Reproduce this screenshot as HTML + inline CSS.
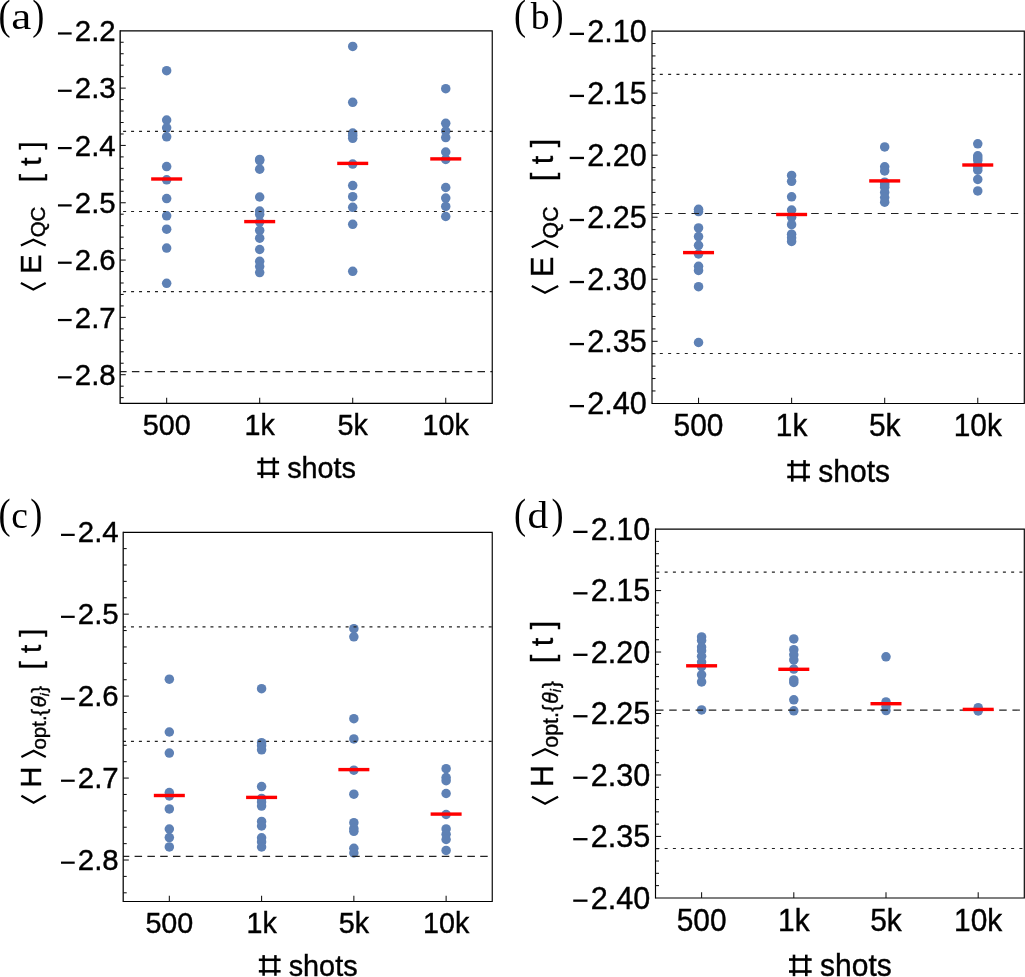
<!DOCTYPE html>
<html><head><meta charset="utf-8"><style>
html,body{margin:0;padding:0;background:#fff;overflow:hidden;}
svg{display:block;will-change:transform;}
text{fill:#000;stroke:#000;stroke-width:0.4px;}
g.nos text{stroke:none;}
</style></head><body>
<svg width="1025" height="977" viewBox="0 0 1025 977">
<rect width="1025" height="977" fill="#fff"/>
<circle cx="166.66" cy="70.70" r="4.75" fill="#5e81b5"/>
<circle cx="166.66" cy="120.00" r="4.75" fill="#5e81b5"/>
<circle cx="166.66" cy="127.80" r="4.75" fill="#5e81b5"/>
<circle cx="166.66" cy="136.80" r="4.75" fill="#5e81b5"/>
<circle cx="166.66" cy="166.60" r="4.75" fill="#5e81b5"/>
<circle cx="166.66" cy="179.80" r="4.75" fill="#5e81b5"/>
<circle cx="166.66" cy="198.60" r="4.75" fill="#5e81b5"/>
<circle cx="166.66" cy="215.80" r="4.75" fill="#5e81b5"/>
<circle cx="166.66" cy="229.20" r="4.75" fill="#5e81b5"/>
<circle cx="166.66" cy="248.10" r="4.75" fill="#5e81b5"/>
<circle cx="166.66" cy="283.30" r="4.75" fill="#5e81b5"/>
<circle cx="259.69" cy="159.40" r="4.75" fill="#5e81b5"/>
<circle cx="259.69" cy="160.60" r="4.75" fill="#5e81b5"/>
<circle cx="259.69" cy="169.20" r="4.75" fill="#5e81b5"/>
<circle cx="259.69" cy="197.00" r="4.75" fill="#5e81b5"/>
<circle cx="259.69" cy="211.10" r="4.75" fill="#5e81b5"/>
<circle cx="259.69" cy="214.40" r="4.75" fill="#5e81b5"/>
<circle cx="259.69" cy="221.80" r="4.75" fill="#5e81b5"/>
<circle cx="259.69" cy="230.40" r="4.75" fill="#5e81b5"/>
<circle cx="259.69" cy="238.20" r="4.75" fill="#5e81b5"/>
<circle cx="259.69" cy="249.50" r="4.75" fill="#5e81b5"/>
<circle cx="259.69" cy="261.30" r="4.75" fill="#5e81b5"/>
<circle cx="259.69" cy="266.50" r="4.75" fill="#5e81b5"/>
<circle cx="259.69" cy="272.60" r="4.75" fill="#5e81b5"/>
<circle cx="352.71" cy="46.40" r="4.75" fill="#5e81b5"/>
<circle cx="352.71" cy="102.30" r="4.75" fill="#5e81b5"/>
<circle cx="352.71" cy="133.00" r="4.75" fill="#5e81b5"/>
<circle cx="352.71" cy="135.60" r="4.75" fill="#5e81b5"/>
<circle cx="352.71" cy="138.30" r="4.75" fill="#5e81b5"/>
<circle cx="352.71" cy="164.10" r="4.75" fill="#5e81b5"/>
<circle cx="352.71" cy="185.60" r="4.75" fill="#5e81b5"/>
<circle cx="352.71" cy="196.70" r="4.75" fill="#5e81b5"/>
<circle cx="352.71" cy="207.30" r="4.75" fill="#5e81b5"/>
<circle cx="352.71" cy="224.30" r="4.75" fill="#5e81b5"/>
<circle cx="352.71" cy="271.30" r="4.75" fill="#5e81b5"/>
<circle cx="445.74" cy="88.70" r="4.75" fill="#5e81b5"/>
<circle cx="445.74" cy="123.30" r="4.75" fill="#5e81b5"/>
<circle cx="445.74" cy="131.10" r="4.75" fill="#5e81b5"/>
<circle cx="445.74" cy="137.60" r="4.75" fill="#5e81b5"/>
<circle cx="445.74" cy="152.00" r="4.75" fill="#5e81b5"/>
<circle cx="445.74" cy="159.40" r="4.75" fill="#5e81b5"/>
<circle cx="445.74" cy="187.50" r="4.75" fill="#5e81b5"/>
<circle cx="445.74" cy="198.10" r="4.75" fill="#5e81b5"/>
<circle cx="445.74" cy="206.40" r="4.75" fill="#5e81b5"/>
<circle cx="445.74" cy="216.50" r="4.75" fill="#5e81b5"/>
<line x1="120.15" y1="131.40" x2="492.25" y2="131.40" stroke="#222" stroke-width="1.15" stroke-dasharray="3.0 4.97" stroke-dashoffset="5.02"/>
<line x1="120.15" y1="211.50" x2="492.25" y2="211.50" stroke="#222" stroke-width="1.15" stroke-dasharray="3.0 4.97" stroke-dashoffset="5.02"/>
<line x1="120.15" y1="291.60" x2="492.25" y2="291.60" stroke="#222" stroke-width="1.15" stroke-dasharray="3.0 4.97" stroke-dashoffset="5.02"/>
<line x1="120.15" y1="371.60" x2="492.25" y2="371.60" stroke="#222" stroke-width="1.15" stroke-dasharray="7.5 5.30" stroke-dashoffset="1.05"/>
<line x1="151.16" y1="179.00" x2="182.16" y2="179.00" stroke="#ff0000" stroke-width="3.4"/>
<line x1="244.19" y1="221.60" x2="275.19" y2="221.60" stroke="#ff0000" stroke-width="3.4"/>
<line x1="337.21" y1="163.40" x2="368.21" y2="163.40" stroke="#ff0000" stroke-width="3.4"/>
<line x1="430.24" y1="158.90" x2="461.24" y2="158.90" stroke="#ff0000" stroke-width="3.4"/>
<path d="M120.15,30.80H492.25V403.35H120.15" fill="none" stroke="#000000" stroke-width="1.15"/>
<line x1="120.15" y1="30.23" x2="120.15" y2="403.93" stroke="#000000" stroke-width="1.35"/>
<line x1="120.15" y1="397.62" x2="123.65" y2="397.62" stroke="#111111" stroke-width="1.05"/>
<line x1="120.15" y1="386.16" x2="123.65" y2="386.16" stroke="#111111" stroke-width="1.05"/>
<line x1="120.15" y1="374.69" x2="125.75" y2="374.69" stroke="#111111" stroke-width="1.05"/>
<text x="115.65" y="384.95" font-family="Liberation Sans" font-size="29.4" text-anchor="end">2.8</text>
<rect x="57.96" y="376.25" width="13.70" height="2.20" fill="#000"/>
<line x1="120.15" y1="363.23" x2="123.65" y2="363.23" stroke="#111111" stroke-width="1.05"/>
<line x1="120.15" y1="351.77" x2="123.65" y2="351.77" stroke="#111111" stroke-width="1.05"/>
<line x1="120.15" y1="340.30" x2="123.65" y2="340.30" stroke="#111111" stroke-width="1.05"/>
<line x1="120.15" y1="328.84" x2="123.65" y2="328.84" stroke="#111111" stroke-width="1.05"/>
<line x1="120.15" y1="317.38" x2="125.75" y2="317.38" stroke="#111111" stroke-width="1.05"/>
<text x="115.65" y="327.64" font-family="Liberation Sans" font-size="29.4" text-anchor="end">2.7</text>
<rect x="57.96" y="318.94" width="13.70" height="2.20" fill="#000"/>
<line x1="120.15" y1="305.91" x2="123.65" y2="305.91" stroke="#111111" stroke-width="1.05"/>
<line x1="120.15" y1="294.45" x2="123.65" y2="294.45" stroke="#111111" stroke-width="1.05"/>
<line x1="120.15" y1="282.99" x2="123.65" y2="282.99" stroke="#111111" stroke-width="1.05"/>
<line x1="120.15" y1="271.52" x2="123.65" y2="271.52" stroke="#111111" stroke-width="1.05"/>
<line x1="120.15" y1="260.06" x2="125.75" y2="260.06" stroke="#111111" stroke-width="1.05"/>
<text x="115.65" y="270.32" font-family="Liberation Sans" font-size="29.4" text-anchor="end">2.6</text>
<rect x="57.96" y="261.62" width="13.70" height="2.20" fill="#000"/>
<line x1="120.15" y1="248.60" x2="123.65" y2="248.60" stroke="#111111" stroke-width="1.05"/>
<line x1="120.15" y1="237.14" x2="123.65" y2="237.14" stroke="#111111" stroke-width="1.05"/>
<line x1="120.15" y1="225.67" x2="123.65" y2="225.67" stroke="#111111" stroke-width="1.05"/>
<line x1="120.15" y1="214.21" x2="123.65" y2="214.21" stroke="#111111" stroke-width="1.05"/>
<line x1="120.15" y1="202.75" x2="125.75" y2="202.75" stroke="#111111" stroke-width="1.05"/>
<text x="115.65" y="213.01" font-family="Liberation Sans" font-size="29.4" text-anchor="end">2.5</text>
<rect x="57.96" y="204.31" width="13.70" height="2.20" fill="#000"/>
<line x1="120.15" y1="191.28" x2="123.65" y2="191.28" stroke="#111111" stroke-width="1.05"/>
<line x1="120.15" y1="179.82" x2="123.65" y2="179.82" stroke="#111111" stroke-width="1.05"/>
<line x1="120.15" y1="168.36" x2="123.65" y2="168.36" stroke="#111111" stroke-width="1.05"/>
<line x1="120.15" y1="156.89" x2="123.65" y2="156.89" stroke="#111111" stroke-width="1.05"/>
<line x1="120.15" y1="145.43" x2="125.75" y2="145.43" stroke="#111111" stroke-width="1.05"/>
<text x="115.65" y="155.69" font-family="Liberation Sans" font-size="29.4" text-anchor="end">2.4</text>
<rect x="57.96" y="146.99" width="13.70" height="2.20" fill="#000"/>
<line x1="120.15" y1="133.97" x2="123.65" y2="133.97" stroke="#111111" stroke-width="1.05"/>
<line x1="120.15" y1="122.50" x2="123.65" y2="122.50" stroke="#111111" stroke-width="1.05"/>
<line x1="120.15" y1="111.04" x2="123.65" y2="111.04" stroke="#111111" stroke-width="1.05"/>
<line x1="120.15" y1="99.58" x2="123.65" y2="99.58" stroke="#111111" stroke-width="1.05"/>
<line x1="120.15" y1="88.12" x2="125.75" y2="88.12" stroke="#111111" stroke-width="1.05"/>
<text x="115.65" y="98.38" font-family="Liberation Sans" font-size="29.4" text-anchor="end">2.3</text>
<rect x="57.96" y="89.68" width="13.70" height="2.20" fill="#000"/>
<line x1="120.15" y1="76.65" x2="123.65" y2="76.65" stroke="#111111" stroke-width="1.05"/>
<line x1="120.15" y1="65.19" x2="123.65" y2="65.19" stroke="#111111" stroke-width="1.05"/>
<line x1="120.15" y1="53.73" x2="123.65" y2="53.73" stroke="#111111" stroke-width="1.05"/>
<line x1="120.15" y1="42.26" x2="123.65" y2="42.26" stroke="#111111" stroke-width="1.05"/>
<text x="115.65" y="41.06" font-family="Liberation Sans" font-size="29.4" text-anchor="end">2.2</text>
<rect x="57.96" y="32.36" width="13.70" height="2.20" fill="#000"/>
<line x1="166.66" y1="403.35" x2="166.66" y2="397.65" stroke="#111111" stroke-width="1.05"/>
<text transform="translate(166.66,435.25) scale(0.977,1)" text-anchor="middle" font-family="Liberation Sans" font-size="29.4">500</text>
<line x1="259.69" y1="403.35" x2="259.69" y2="397.65" stroke="#111111" stroke-width="1.05"/>
<text transform="translate(259.69,435.25) scale(0.977,1)" text-anchor="middle" font-family="Liberation Sans" font-size="29.4">1k</text>
<line x1="352.71" y1="403.35" x2="352.71" y2="397.65" stroke="#111111" stroke-width="1.05"/>
<text transform="translate(352.71,435.25) scale(0.977,1)" text-anchor="middle" font-family="Liberation Sans" font-size="29.4">5k</text>
<line x1="445.74" y1="403.35" x2="445.74" y2="397.65" stroke="#111111" stroke-width="1.05"/>
<text transform="translate(445.74,435.25) scale(0.977,1)" text-anchor="middle" font-family="Liberation Sans" font-size="29.4">10k</text>
<g stroke="#000" stroke-width="2.50" fill="none"><line x1="262.10" y1="457.45" x2="262.10" y2="478.15"/><line x1="273.90" y1="457.45" x2="273.90" y2="478.15"/><line x1="257.30" y1="462.15" x2="279.10" y2="462.15"/><line x1="257.30" y1="473.65" x2="279.10" y2="473.65"/></g>
<text transform="translate(287.18,478.25) scale(0.98,1)" font-family="Liberation Sans" font-size="29.4">shots</text>
<circle cx="698.54" cy="209.30" r="4.75" fill="#5e81b5"/>
<circle cx="698.54" cy="211.60" r="4.75" fill="#5e81b5"/>
<circle cx="698.54" cy="227.90" r="4.75" fill="#5e81b5"/>
<circle cx="698.54" cy="236.60" r="4.75" fill="#5e81b5"/>
<circle cx="698.54" cy="245.30" r="4.75" fill="#5e81b5"/>
<circle cx="698.54" cy="254.00" r="4.75" fill="#5e81b5"/>
<circle cx="698.54" cy="266.30" r="4.75" fill="#5e81b5"/>
<circle cx="698.54" cy="270.50" r="4.75" fill="#5e81b5"/>
<circle cx="698.54" cy="286.70" r="4.75" fill="#5e81b5"/>
<circle cx="698.54" cy="342.50" r="4.75" fill="#5e81b5"/>
<circle cx="791.61" cy="175.40" r="4.75" fill="#5e81b5"/>
<circle cx="791.61" cy="181.30" r="4.75" fill="#5e81b5"/>
<circle cx="791.61" cy="196.80" r="4.75" fill="#5e81b5"/>
<circle cx="791.61" cy="210.00" r="4.75" fill="#5e81b5"/>
<circle cx="791.61" cy="217.30" r="4.75" fill="#5e81b5"/>
<circle cx="791.61" cy="224.70" r="4.75" fill="#5e81b5"/>
<circle cx="791.61" cy="234.20" r="4.75" fill="#5e81b5"/>
<circle cx="791.61" cy="237.80" r="4.75" fill="#5e81b5"/>
<circle cx="791.61" cy="241.40" r="4.75" fill="#5e81b5"/>
<circle cx="884.69" cy="146.90" r="4.75" fill="#5e81b5"/>
<circle cx="884.69" cy="166.80" r="4.75" fill="#5e81b5"/>
<circle cx="884.69" cy="170.90" r="4.75" fill="#5e81b5"/>
<circle cx="884.69" cy="182.20" r="4.75" fill="#5e81b5"/>
<circle cx="884.69" cy="184.70" r="4.75" fill="#5e81b5"/>
<circle cx="884.69" cy="187.30" r="4.75" fill="#5e81b5"/>
<circle cx="884.69" cy="192.40" r="4.75" fill="#5e81b5"/>
<circle cx="884.69" cy="197.60" r="4.75" fill="#5e81b5"/>
<circle cx="884.69" cy="202.20" r="4.75" fill="#5e81b5"/>
<circle cx="977.76" cy="143.80" r="4.75" fill="#5e81b5"/>
<circle cx="977.76" cy="155.80" r="4.75" fill="#5e81b5"/>
<circle cx="977.76" cy="158.00" r="4.75" fill="#5e81b5"/>
<circle cx="977.76" cy="160.40" r="4.75" fill="#5e81b5"/>
<circle cx="977.76" cy="165.00" r="4.75" fill="#5e81b5"/>
<circle cx="977.76" cy="167.50" r="4.75" fill="#5e81b5"/>
<circle cx="977.76" cy="170.20" r="4.75" fill="#5e81b5"/>
<circle cx="977.76" cy="179.40" r="4.75" fill="#5e81b5"/>
<circle cx="977.76" cy="190.90" r="4.75" fill="#5e81b5"/>
<line x1="652.00" y1="74.40" x2="1024.30" y2="74.40" stroke="#222" stroke-width="1.15" stroke-dasharray="3.0 5.33" stroke-dashoffset="0.53"/>
<line x1="652.00" y1="213.50" x2="1024.30" y2="213.50" stroke="#222" stroke-width="1.15" stroke-dasharray="7.5 5.80" stroke-dashoffset="0.40"/>
<line x1="652.00" y1="353.50" x2="1024.30" y2="353.50" stroke="#222" stroke-width="1.15" stroke-dasharray="3.0 5.33" stroke-dashoffset="0.53"/>
<line x1="683.04" y1="252.60" x2="714.04" y2="252.60" stroke="#ff0000" stroke-width="3.4"/>
<line x1="776.11" y1="214.50" x2="807.11" y2="214.50" stroke="#ff0000" stroke-width="3.4"/>
<line x1="869.19" y1="180.90" x2="900.19" y2="180.90" stroke="#ff0000" stroke-width="3.4"/>
<line x1="962.26" y1="165.00" x2="993.26" y2="165.00" stroke="#ff0000" stroke-width="3.4"/>
<path d="M652.00,31.10H1024.30V403.50H652.00" fill="none" stroke="#000000" stroke-width="1.15"/>
<line x1="652.00" y1="30.53" x2="652.00" y2="404.07" stroke="#000000" stroke-width="1.15"/>
<text x="646.80" y="414.03" font-family="Liberation Sans" font-size="30.6" text-anchor="end">2.40</text>
<rect x="569.74" y="404.97" width="14.26" height="2.29" fill="#000"/>
<line x1="652.00" y1="390.94" x2="655.50" y2="390.94" stroke="#111111" stroke-width="1.05"/>
<line x1="652.00" y1="378.53" x2="655.50" y2="378.53" stroke="#111111" stroke-width="1.05"/>
<line x1="652.00" y1="366.13" x2="655.50" y2="366.13" stroke="#111111" stroke-width="1.05"/>
<line x1="652.00" y1="353.72" x2="655.50" y2="353.72" stroke="#111111" stroke-width="1.05"/>
<line x1="652.00" y1="341.31" x2="657.60" y2="341.31" stroke="#111111" stroke-width="1.05"/>
<text x="646.80" y="351.99" font-family="Liberation Sans" font-size="30.6" text-anchor="end">2.35</text>
<rect x="569.74" y="342.93" width="14.26" height="2.29" fill="#000"/>
<line x1="652.00" y1="328.90" x2="655.50" y2="328.90" stroke="#111111" stroke-width="1.05"/>
<line x1="652.00" y1="316.49" x2="655.50" y2="316.49" stroke="#111111" stroke-width="1.05"/>
<line x1="652.00" y1="304.08" x2="655.50" y2="304.08" stroke="#111111" stroke-width="1.05"/>
<line x1="652.00" y1="291.68" x2="655.50" y2="291.68" stroke="#111111" stroke-width="1.05"/>
<line x1="652.00" y1="279.27" x2="657.60" y2="279.27" stroke="#111111" stroke-width="1.05"/>
<text x="646.80" y="289.95" font-family="Liberation Sans" font-size="30.6" text-anchor="end">2.30</text>
<rect x="569.74" y="280.89" width="14.26" height="2.29" fill="#000"/>
<line x1="652.00" y1="266.86" x2="655.50" y2="266.86" stroke="#111111" stroke-width="1.05"/>
<line x1="652.00" y1="254.45" x2="655.50" y2="254.45" stroke="#111111" stroke-width="1.05"/>
<line x1="652.00" y1="242.04" x2="655.50" y2="242.04" stroke="#111111" stroke-width="1.05"/>
<line x1="652.00" y1="229.63" x2="655.50" y2="229.63" stroke="#111111" stroke-width="1.05"/>
<line x1="652.00" y1="217.22" x2="657.60" y2="217.22" stroke="#111111" stroke-width="1.05"/>
<text x="646.80" y="227.90" font-family="Liberation Sans" font-size="30.6" text-anchor="end">2.25</text>
<rect x="569.74" y="218.85" width="14.26" height="2.29" fill="#000"/>
<line x1="652.00" y1="204.82" x2="655.50" y2="204.82" stroke="#111111" stroke-width="1.05"/>
<line x1="652.00" y1="192.41" x2="655.50" y2="192.41" stroke="#111111" stroke-width="1.05"/>
<line x1="652.00" y1="180.00" x2="655.50" y2="180.00" stroke="#111111" stroke-width="1.05"/>
<line x1="652.00" y1="167.59" x2="655.50" y2="167.59" stroke="#111111" stroke-width="1.05"/>
<line x1="652.00" y1="155.18" x2="657.60" y2="155.18" stroke="#111111" stroke-width="1.05"/>
<text x="646.80" y="165.86" font-family="Liberation Sans" font-size="30.6" text-anchor="end">2.20</text>
<rect x="569.74" y="156.81" width="14.26" height="2.29" fill="#000"/>
<line x1="652.00" y1="142.77" x2="655.50" y2="142.77" stroke="#111111" stroke-width="1.05"/>
<line x1="652.00" y1="130.37" x2="655.50" y2="130.37" stroke="#111111" stroke-width="1.05"/>
<line x1="652.00" y1="117.96" x2="655.50" y2="117.96" stroke="#111111" stroke-width="1.05"/>
<line x1="652.00" y1="105.55" x2="655.50" y2="105.55" stroke="#111111" stroke-width="1.05"/>
<line x1="652.00" y1="93.14" x2="657.60" y2="93.14" stroke="#111111" stroke-width="1.05"/>
<text x="646.80" y="103.82" font-family="Liberation Sans" font-size="30.6" text-anchor="end">2.15</text>
<rect x="569.74" y="94.77" width="14.26" height="2.29" fill="#000"/>
<line x1="652.00" y1="80.73" x2="655.50" y2="80.73" stroke="#111111" stroke-width="1.05"/>
<line x1="652.00" y1="68.32" x2="655.50" y2="68.32" stroke="#111111" stroke-width="1.05"/>
<line x1="652.00" y1="55.92" x2="655.50" y2="55.92" stroke="#111111" stroke-width="1.05"/>
<line x1="652.00" y1="43.51" x2="655.50" y2="43.51" stroke="#111111" stroke-width="1.05"/>
<text x="646.80" y="41.78" font-family="Liberation Sans" font-size="30.6" text-anchor="end">2.10</text>
<rect x="569.74" y="32.72" width="14.26" height="2.29" fill="#000"/>
<line x1="698.54" y1="403.50" x2="698.54" y2="397.80" stroke="#111111" stroke-width="1.05"/>
<text transform="translate(698.54,436.25) scale(0.977,1)" text-anchor="middle" font-family="Liberation Sans" font-size="30.6">500</text>
<line x1="791.61" y1="403.50" x2="791.61" y2="397.80" stroke="#111111" stroke-width="1.05"/>
<text transform="translate(791.61,436.25) scale(0.977,1)" text-anchor="middle" font-family="Liberation Sans" font-size="30.6">1k</text>
<line x1="884.69" y1="403.50" x2="884.69" y2="397.80" stroke="#111111" stroke-width="1.05"/>
<text transform="translate(884.69,436.25) scale(0.977,1)" text-anchor="middle" font-family="Liberation Sans" font-size="30.6">5k</text>
<line x1="977.76" y1="403.50" x2="977.76" y2="397.80" stroke="#111111" stroke-width="1.05"/>
<text transform="translate(977.76,436.25) scale(0.977,1)" text-anchor="middle" font-family="Liberation Sans" font-size="30.6">10k</text>
<g stroke="#000" stroke-width="2.60" fill="none"><line x1="792.25" y1="460.10" x2="792.25" y2="481.65"/><line x1="804.53" y1="460.10" x2="804.53" y2="481.65"/><line x1="787.25" y1="464.99" x2="809.94" y2="464.99"/><line x1="787.25" y1="476.96" x2="809.94" y2="476.96"/></g>
<text transform="translate(818.35,481.75) scale(0.98,1)" font-family="Liberation Sans" font-size="30.6">shots</text>
<circle cx="169.33" cy="679.20" r="4.75" fill="#5e81b5"/>
<circle cx="169.33" cy="732.00" r="4.75" fill="#5e81b5"/>
<circle cx="169.33" cy="753.10" r="4.75" fill="#5e81b5"/>
<circle cx="169.33" cy="792.50" r="4.75" fill="#5e81b5"/>
<circle cx="169.33" cy="796.00" r="4.75" fill="#5e81b5"/>
<circle cx="169.33" cy="808.90" r="4.75" fill="#5e81b5"/>
<circle cx="169.33" cy="829.00" r="4.75" fill="#5e81b5"/>
<circle cx="169.33" cy="837.60" r="4.75" fill="#5e81b5"/>
<circle cx="169.33" cy="846.90" r="4.75" fill="#5e81b5"/>
<circle cx="261.59" cy="688.70" r="4.75" fill="#5e81b5"/>
<circle cx="261.59" cy="742.70" r="4.75" fill="#5e81b5"/>
<circle cx="261.59" cy="745.70" r="4.75" fill="#5e81b5"/>
<circle cx="261.59" cy="749.80" r="4.75" fill="#5e81b5"/>
<circle cx="261.59" cy="786.60" r="4.75" fill="#5e81b5"/>
<circle cx="261.59" cy="798.40" r="4.75" fill="#5e81b5"/>
<circle cx="261.59" cy="802.00" r="4.75" fill="#5e81b5"/>
<circle cx="261.59" cy="806.10" r="4.75" fill="#5e81b5"/>
<circle cx="261.59" cy="821.40" r="4.75" fill="#5e81b5"/>
<circle cx="261.59" cy="826.00" r="4.75" fill="#5e81b5"/>
<circle cx="261.59" cy="837.80" r="4.75" fill="#5e81b5"/>
<circle cx="261.59" cy="841.90" r="4.75" fill="#5e81b5"/>
<circle cx="261.59" cy="847.00" r="4.75" fill="#5e81b5"/>
<circle cx="353.86" cy="628.70" r="4.75" fill="#5e81b5"/>
<circle cx="353.86" cy="636.80" r="4.75" fill="#5e81b5"/>
<circle cx="353.86" cy="718.70" r="4.75" fill="#5e81b5"/>
<circle cx="353.86" cy="738.90" r="4.75" fill="#5e81b5"/>
<circle cx="353.86" cy="770.20" r="4.75" fill="#5e81b5"/>
<circle cx="353.86" cy="794.20" r="4.75" fill="#5e81b5"/>
<circle cx="353.86" cy="822.70" r="4.75" fill="#5e81b5"/>
<circle cx="353.86" cy="828.50" r="4.75" fill="#5e81b5"/>
<circle cx="353.86" cy="831.30" r="4.75" fill="#5e81b5"/>
<circle cx="353.86" cy="848.30" r="4.75" fill="#5e81b5"/>
<circle cx="353.86" cy="853.00" r="4.75" fill="#5e81b5"/>
<circle cx="446.12" cy="768.70" r="4.75" fill="#5e81b5"/>
<circle cx="446.12" cy="777.60" r="4.75" fill="#5e81b5"/>
<circle cx="446.12" cy="780.70" r="4.75" fill="#5e81b5"/>
<circle cx="446.12" cy="793.50" r="4.75" fill="#5e81b5"/>
<circle cx="446.12" cy="814.50" r="4.75" fill="#5e81b5"/>
<circle cx="446.12" cy="828.90" r="4.75" fill="#5e81b5"/>
<circle cx="446.12" cy="834.30" r="4.75" fill="#5e81b5"/>
<circle cx="446.12" cy="839.50" r="4.75" fill="#5e81b5"/>
<circle cx="446.12" cy="850.40" r="4.75" fill="#5e81b5"/>
<line x1="123.20" y1="626.90" x2="492.25" y2="626.90" stroke="#222" stroke-width="1.15" stroke-dasharray="3.0 4.95" stroke-dashoffset="0.20"/>
<line x1="123.20" y1="741.40" x2="492.25" y2="741.40" stroke="#222" stroke-width="1.15" stroke-dasharray="3.0 4.95" stroke-dashoffset="0.20"/>
<line x1="123.20" y1="856.40" x2="492.25" y2="856.40" stroke="#222" stroke-width="1.15" stroke-dasharray="7.5 5.30" stroke-dashoffset="1.40"/>
<line x1="153.83" y1="795.50" x2="184.83" y2="795.50" stroke="#ff0000" stroke-width="3.4"/>
<line x1="246.09" y1="797.40" x2="277.09" y2="797.40" stroke="#ff0000" stroke-width="3.4"/>
<line x1="338.36" y1="769.60" x2="369.36" y2="769.60" stroke="#ff0000" stroke-width="3.4"/>
<line x1="430.62" y1="814.10" x2="461.62" y2="814.10" stroke="#ff0000" stroke-width="3.4"/>
<path d="M123.20,532.35H492.25V901.50H123.20" fill="none" stroke="#000000" stroke-width="1.15"/>
<line x1="123.20" y1="531.77" x2="123.20" y2="902.08" stroke="#000000" stroke-width="1.25"/>
<line x1="123.20" y1="892.80" x2="126.70" y2="892.80" stroke="#111111" stroke-width="1.05"/>
<line x1="123.20" y1="876.41" x2="126.70" y2="876.41" stroke="#111111" stroke-width="1.05"/>
<line x1="123.20" y1="860.02" x2="128.80" y2="860.02" stroke="#111111" stroke-width="1.05"/>
<text x="118.70" y="870.28" font-family="Liberation Sans" font-size="29.4" text-anchor="end">2.8</text>
<rect x="61.01" y="861.58" width="13.70" height="2.20" fill="#000"/>
<line x1="123.20" y1="843.63" x2="126.70" y2="843.63" stroke="#111111" stroke-width="1.05"/>
<line x1="123.20" y1="827.24" x2="126.70" y2="827.24" stroke="#111111" stroke-width="1.05"/>
<line x1="123.20" y1="810.85" x2="126.70" y2="810.85" stroke="#111111" stroke-width="1.05"/>
<line x1="123.20" y1="794.46" x2="126.70" y2="794.46" stroke="#111111" stroke-width="1.05"/>
<line x1="123.20" y1="778.07" x2="128.80" y2="778.07" stroke="#111111" stroke-width="1.05"/>
<text x="118.70" y="788.33" font-family="Liberation Sans" font-size="29.4" text-anchor="end">2.7</text>
<rect x="61.01" y="779.63" width="13.70" height="2.20" fill="#000"/>
<line x1="123.20" y1="761.68" x2="126.70" y2="761.68" stroke="#111111" stroke-width="1.05"/>
<line x1="123.20" y1="745.28" x2="126.70" y2="745.28" stroke="#111111" stroke-width="1.05"/>
<line x1="123.20" y1="728.89" x2="126.70" y2="728.89" stroke="#111111" stroke-width="1.05"/>
<line x1="123.20" y1="712.50" x2="126.70" y2="712.50" stroke="#111111" stroke-width="1.05"/>
<line x1="123.20" y1="696.11" x2="128.80" y2="696.11" stroke="#111111" stroke-width="1.05"/>
<text x="118.70" y="706.37" font-family="Liberation Sans" font-size="29.4" text-anchor="end">2.6</text>
<rect x="61.01" y="697.67" width="13.70" height="2.20" fill="#000"/>
<line x1="123.20" y1="679.72" x2="126.70" y2="679.72" stroke="#111111" stroke-width="1.05"/>
<line x1="123.20" y1="663.33" x2="126.70" y2="663.33" stroke="#111111" stroke-width="1.05"/>
<line x1="123.20" y1="646.94" x2="126.70" y2="646.94" stroke="#111111" stroke-width="1.05"/>
<line x1="123.20" y1="630.55" x2="126.70" y2="630.55" stroke="#111111" stroke-width="1.05"/>
<line x1="123.20" y1="614.16" x2="128.80" y2="614.16" stroke="#111111" stroke-width="1.05"/>
<text x="118.70" y="624.42" font-family="Liberation Sans" font-size="29.4" text-anchor="end">2.5</text>
<rect x="61.01" y="615.72" width="13.70" height="2.20" fill="#000"/>
<line x1="123.20" y1="597.76" x2="126.70" y2="597.76" stroke="#111111" stroke-width="1.05"/>
<line x1="123.20" y1="581.37" x2="126.70" y2="581.37" stroke="#111111" stroke-width="1.05"/>
<line x1="123.20" y1="564.98" x2="126.70" y2="564.98" stroke="#111111" stroke-width="1.05"/>
<line x1="123.20" y1="548.59" x2="126.70" y2="548.59" stroke="#111111" stroke-width="1.05"/>
<text x="118.70" y="542.46" font-family="Liberation Sans" font-size="29.4" text-anchor="end">2.4</text>
<rect x="61.01" y="533.76" width="13.70" height="2.20" fill="#000"/>
<line x1="169.33" y1="901.50" x2="169.33" y2="895.80" stroke="#111111" stroke-width="1.05"/>
<text transform="translate(169.33,932.90) scale(0.977,1)" text-anchor="middle" font-family="Liberation Sans" font-size="29.4">500</text>
<line x1="261.59" y1="901.50" x2="261.59" y2="895.80" stroke="#111111" stroke-width="1.05"/>
<text transform="translate(261.59,932.90) scale(0.977,1)" text-anchor="middle" font-family="Liberation Sans" font-size="29.4">1k</text>
<line x1="353.86" y1="901.50" x2="353.86" y2="895.80" stroke="#111111" stroke-width="1.05"/>
<text transform="translate(353.86,932.90) scale(0.977,1)" text-anchor="middle" font-family="Liberation Sans" font-size="29.4">5k</text>
<line x1="446.12" y1="901.50" x2="446.12" y2="895.80" stroke="#111111" stroke-width="1.05"/>
<text transform="translate(446.12,932.90) scale(0.977,1)" text-anchor="middle" font-family="Liberation Sans" font-size="29.4">10k</text>
<g stroke="#000" stroke-width="2.50" fill="none"><line x1="263.63" y1="955.10" x2="263.63" y2="975.80"/><line x1="275.43" y1="955.10" x2="275.43" y2="975.80"/><line x1="258.83" y1="959.80" x2="280.63" y2="959.80"/><line x1="258.83" y1="971.30" x2="280.63" y2="971.30"/></g>
<text transform="translate(288.70,975.90) scale(0.98,1)" font-family="Liberation Sans" font-size="29.4">shots</text>
<circle cx="701.60" cy="636.90" r="4.75" fill="#5e81b5"/>
<circle cx="701.60" cy="640.50" r="4.75" fill="#5e81b5"/>
<circle cx="701.60" cy="647.10" r="4.75" fill="#5e81b5"/>
<circle cx="701.60" cy="650.70" r="4.75" fill="#5e81b5"/>
<circle cx="701.60" cy="656.30" r="4.75" fill="#5e81b5"/>
<circle cx="701.60" cy="662.00" r="4.75" fill="#5e81b5"/>
<circle cx="701.60" cy="666.60" r="4.75" fill="#5e81b5"/>
<circle cx="701.60" cy="674.80" r="4.75" fill="#5e81b5"/>
<circle cx="701.60" cy="681.90" r="4.75" fill="#5e81b5"/>
<circle cx="701.60" cy="709.90" r="4.75" fill="#5e81b5"/>
<circle cx="793.80" cy="638.90" r="4.75" fill="#5e81b5"/>
<circle cx="793.80" cy="649.70" r="4.75" fill="#5e81b5"/>
<circle cx="793.80" cy="654.80" r="4.75" fill="#5e81b5"/>
<circle cx="793.80" cy="659.90" r="4.75" fill="#5e81b5"/>
<circle cx="793.80" cy="669.10" r="4.75" fill="#5e81b5"/>
<circle cx="793.80" cy="679.90" r="4.75" fill="#5e81b5"/>
<circle cx="793.80" cy="682.40" r="4.75" fill="#5e81b5"/>
<circle cx="793.80" cy="699.80" r="4.75" fill="#5e81b5"/>
<circle cx="793.80" cy="710.80" r="4.75" fill="#5e81b5"/>
<circle cx="886.00" cy="656.80" r="4.75" fill="#5e81b5"/>
<circle cx="886.00" cy="701.90" r="4.75" fill="#5e81b5"/>
<circle cx="886.00" cy="706.50" r="4.75" fill="#5e81b5"/>
<circle cx="886.00" cy="710.60" r="4.75" fill="#5e81b5"/>
<circle cx="978.20" cy="707.70" r="4.75" fill="#5e81b5"/>
<circle cx="978.20" cy="711.00" r="4.75" fill="#5e81b5"/>
<line x1="655.50" y1="572.10" x2="1024.30" y2="572.10" stroke="#222" stroke-width="1.15" stroke-dasharray="3.0 5.25" stroke-dashoffset="7.35"/>
<line x1="655.50" y1="710.10" x2="1024.30" y2="710.10" stroke="#222" stroke-width="1.15" stroke-dasharray="7.5 5.70" stroke-dashoffset="12.70"/>
<line x1="655.50" y1="848.50" x2="1024.30" y2="848.50" stroke="#222" stroke-width="1.15" stroke-dasharray="3.0 5.25" stroke-dashoffset="7.35"/>
<line x1="686.10" y1="665.80" x2="717.10" y2="665.80" stroke="#ff0000" stroke-width="3.4"/>
<line x1="778.30" y1="669.30" x2="809.30" y2="669.30" stroke="#ff0000" stroke-width="3.4"/>
<line x1="870.50" y1="703.70" x2="901.50" y2="703.70" stroke="#ff0000" stroke-width="3.4"/>
<line x1="962.70" y1="709.40" x2="993.70" y2="709.40" stroke="#ff0000" stroke-width="3.4"/>
<path d="M655.50,529.10H1024.30V898.00H655.50" fill="none" stroke="#000000" stroke-width="1.15"/>
<line x1="655.50" y1="528.52" x2="655.50" y2="898.58" stroke="#000000" stroke-width="1.15"/>
<text x="650.30" y="908.58" font-family="Liberation Sans" font-size="30.6" text-anchor="end">2.40</text>
<rect x="573.24" y="899.52" width="14.26" height="2.29" fill="#000"/>
<line x1="655.50" y1="885.61" x2="659.00" y2="885.61" stroke="#111111" stroke-width="1.05"/>
<line x1="655.50" y1="873.31" x2="659.00" y2="873.31" stroke="#111111" stroke-width="1.05"/>
<line x1="655.50" y1="861.02" x2="659.00" y2="861.02" stroke="#111111" stroke-width="1.05"/>
<line x1="655.50" y1="848.73" x2="659.00" y2="848.73" stroke="#111111" stroke-width="1.05"/>
<line x1="655.50" y1="836.43" x2="661.10" y2="836.43" stroke="#111111" stroke-width="1.05"/>
<text x="650.30" y="847.11" font-family="Liberation Sans" font-size="30.6" text-anchor="end">2.35</text>
<rect x="573.24" y="838.06" width="14.26" height="2.29" fill="#000"/>
<line x1="655.50" y1="824.14" x2="659.00" y2="824.14" stroke="#111111" stroke-width="1.05"/>
<line x1="655.50" y1="811.85" x2="659.00" y2="811.85" stroke="#111111" stroke-width="1.05"/>
<line x1="655.50" y1="799.55" x2="659.00" y2="799.55" stroke="#111111" stroke-width="1.05"/>
<line x1="655.50" y1="787.26" x2="659.00" y2="787.26" stroke="#111111" stroke-width="1.05"/>
<line x1="655.50" y1="774.97" x2="661.10" y2="774.97" stroke="#111111" stroke-width="1.05"/>
<text x="650.30" y="785.65" font-family="Liberation Sans" font-size="30.6" text-anchor="end">2.30</text>
<rect x="573.24" y="776.59" width="14.26" height="2.29" fill="#000"/>
<line x1="655.50" y1="762.67" x2="659.00" y2="762.67" stroke="#111111" stroke-width="1.05"/>
<line x1="655.50" y1="750.38" x2="659.00" y2="750.38" stroke="#111111" stroke-width="1.05"/>
<line x1="655.50" y1="738.09" x2="659.00" y2="738.09" stroke="#111111" stroke-width="1.05"/>
<line x1="655.50" y1="725.79" x2="659.00" y2="725.79" stroke="#111111" stroke-width="1.05"/>
<line x1="655.50" y1="713.50" x2="661.10" y2="713.50" stroke="#111111" stroke-width="1.05"/>
<text x="650.30" y="724.18" font-family="Liberation Sans" font-size="30.6" text-anchor="end">2.25</text>
<rect x="573.24" y="715.12" width="14.26" height="2.29" fill="#000"/>
<line x1="655.50" y1="701.21" x2="659.00" y2="701.21" stroke="#111111" stroke-width="1.05"/>
<line x1="655.50" y1="688.91" x2="659.00" y2="688.91" stroke="#111111" stroke-width="1.05"/>
<line x1="655.50" y1="676.62" x2="659.00" y2="676.62" stroke="#111111" stroke-width="1.05"/>
<line x1="655.50" y1="664.33" x2="659.00" y2="664.33" stroke="#111111" stroke-width="1.05"/>
<line x1="655.50" y1="652.03" x2="661.10" y2="652.03" stroke="#111111" stroke-width="1.05"/>
<text x="650.30" y="662.71" font-family="Liberation Sans" font-size="30.6" text-anchor="end">2.20</text>
<rect x="573.24" y="653.66" width="14.26" height="2.29" fill="#000"/>
<line x1="655.50" y1="639.74" x2="659.00" y2="639.74" stroke="#111111" stroke-width="1.05"/>
<line x1="655.50" y1="627.45" x2="659.00" y2="627.45" stroke="#111111" stroke-width="1.05"/>
<line x1="655.50" y1="615.15" x2="659.00" y2="615.15" stroke="#111111" stroke-width="1.05"/>
<line x1="655.50" y1="602.86" x2="659.00" y2="602.86" stroke="#111111" stroke-width="1.05"/>
<line x1="655.50" y1="590.57" x2="661.10" y2="590.57" stroke="#111111" stroke-width="1.05"/>
<text x="650.30" y="601.25" font-family="Liberation Sans" font-size="30.6" text-anchor="end">2.15</text>
<rect x="573.24" y="592.19" width="14.26" height="2.29" fill="#000"/>
<line x1="655.50" y1="578.27" x2="659.00" y2="578.27" stroke="#111111" stroke-width="1.05"/>
<line x1="655.50" y1="565.98" x2="659.00" y2="565.98" stroke="#111111" stroke-width="1.05"/>
<line x1="655.50" y1="553.69" x2="659.00" y2="553.69" stroke="#111111" stroke-width="1.05"/>
<line x1="655.50" y1="541.39" x2="659.00" y2="541.39" stroke="#111111" stroke-width="1.05"/>
<text x="650.30" y="539.78" font-family="Liberation Sans" font-size="30.6" text-anchor="end">2.10</text>
<rect x="573.24" y="530.72" width="14.26" height="2.29" fill="#000"/>
<line x1="701.60" y1="898.00" x2="701.60" y2="892.30" stroke="#111111" stroke-width="1.05"/>
<text transform="translate(701.60,930.80) scale(0.977,1)" text-anchor="middle" font-family="Liberation Sans" font-size="30.6">500</text>
<line x1="793.80" y1="898.00" x2="793.80" y2="892.30" stroke="#111111" stroke-width="1.05"/>
<text transform="translate(793.80,930.80) scale(0.977,1)" text-anchor="middle" font-family="Liberation Sans" font-size="30.6">1k</text>
<line x1="886.00" y1="898.00" x2="886.00" y2="892.30" stroke="#111111" stroke-width="1.05"/>
<text transform="translate(886.00,930.80) scale(0.977,1)" text-anchor="middle" font-family="Liberation Sans" font-size="30.6">5k</text>
<line x1="978.20" y1="898.00" x2="978.20" y2="892.30" stroke="#111111" stroke-width="1.05"/>
<text transform="translate(978.20,930.80) scale(0.977,1)" text-anchor="middle" font-family="Liberation Sans" font-size="30.6">10k</text>
<g stroke="#000" stroke-width="2.60" fill="none"><line x1="794.00" y1="954.65" x2="794.00" y2="976.20"/><line x1="806.28" y1="954.65" x2="806.28" y2="976.20"/><line x1="789.00" y1="959.54" x2="811.69" y2="959.54"/><line x1="789.00" y1="971.51" x2="811.69" y2="971.51"/></g>
<text transform="translate(820.10,976.30) scale(0.98,1)" font-family="Liberation Sans" font-size="30.6">shots</text>
<g class="nos">
<text transform="translate(-1.59,28.80) scale(0.85,1)" font-family="Liberation Serif" font-size="42.7">(</text>
<text transform="translate(11.31,28.80) scale(1.2,1)" font-family="Liberation Serif" font-size="37.6">a</text>
<text transform="translate(32.21,28.80) scale(0.85,1)" font-family="Liberation Serif" font-size="42.7">)</text>
</g>
<g class="nos">
<text transform="translate(514.01,28.90) scale(0.85,1)" font-family="Liberation Serif" font-size="42.7">(</text>
<text x="530.80" y="28.90" font-family="Liberation Serif" font-size="37.6">b</text>
<text transform="translate(551.51,28.90) scale(0.85,1)" font-family="Liberation Serif" font-size="42.7">)</text>
</g>
<g class="nos">
<text transform="translate(-1.59,527.50) scale(0.85,1)" font-family="Liberation Serif" font-size="42.7">(</text>
<text x="11.27" y="527.50" font-family="Liberation Serif" font-size="37.6">c</text>
<text transform="translate(30.31,527.50) scale(0.85,1)" font-family="Liberation Serif" font-size="42.7">)</text>
</g>
<g class="nos">
<text transform="translate(514.01,527.50) scale(0.85,1)" font-family="Liberation Serif" font-size="42.7">(</text>
<text transform="translate(527.61,527.50) scale(1.1,1)" font-family="Liberation Serif" font-size="37.6">d</text>
<text transform="translate(551.51,527.50) scale(0.85,1)" font-family="Liberation Serif" font-size="42.7">)</text>
</g>
<polyline points="20.89,283.04 33.30,289.44 45.71,283.04" fill="none" stroke="#000" stroke-width="2.3" stroke-linejoin="miter" stroke-miterlimit="10"/>
<text transform="translate(40.70,274.11) rotate(-90)" font-family="Liberation Sans" font-size="29.4" style="white-space:pre">E</text>
<polyline points="20.89,245.56 33.30,239.66 45.71,245.56" fill="none" stroke="#000" stroke-width="2.3" stroke-linejoin="miter" stroke-miterlimit="10"/>
<text transform="translate(45.40,237.37) rotate(-90)" font-family="Liberation Sans" font-size="20.5" style="white-space:pre">QC</text>
<text transform="translate(41.00,182.20) rotate(-90)" font-family="Liberation Sans" font-size="29.4" style="white-space:pre">[ t ]</text>
<polyline points="531.79,286.04 545.00,292.74 558.21,286.04" fill="none" stroke="#000" stroke-width="2.3" stroke-linejoin="miter" stroke-miterlimit="10"/>
<text transform="translate(553.00,277.11) rotate(-90)" font-family="Liberation Sans" font-size="30.6" style="white-space:pre">E</text>
<polyline points="531.79,247.16 545.00,240.66 558.21,247.16" fill="none" stroke="#000" stroke-width="2.3" stroke-linejoin="miter" stroke-miterlimit="10"/>
<text transform="translate(557.90,238.41) rotate(-90)" font-family="Liberation Sans" font-size="21.3" style="white-space:pre">QC</text>
<text transform="translate(553.10,181.18) rotate(-90)" font-family="Liberation Sans" font-size="30.6" style="white-space:pre">[ t ]</text>
<polyline points="21.39,795.63 33.60,802.63 45.81,795.63" fill="none" stroke="#000" stroke-width="2.3" stroke-linejoin="miter" stroke-miterlimit="10"/>
<text transform="translate(40.80,787.71) rotate(-90)" font-family="Liberation Sans" font-size="29.4" style="white-space:pre">H</text>
<polyline points="21.39,757.07 33.60,750.76 45.81,757.07" fill="none" stroke="#000" stroke-width="2.3" stroke-linejoin="miter" stroke-miterlimit="10"/>
<text transform="translate(45.80,749.56) rotate(-90)" font-family="Liberation Sans" font-size="20.5" style="white-space:pre">opt.</text>
<text transform="translate(45.80,715.64) rotate(-90)" font-family="Liberation Sans" font-size="20.5" style="white-space:pre">{</text>
<text transform="translate(45.60,707.21) rotate(-90)" font-family="Liberation Sans" font-size="20.5" font-style="italic" style="white-space:pre">θ</text>
<text transform="translate(48.80,696.22) rotate(-90)" font-family="Liberation Sans" font-size="13.5" font-style="italic" style="white-space:pre">i</text>
<text transform="translate(45.80,692.74) rotate(-90)" font-family="Liberation Sans" font-size="20.5" style="white-space:pre">}</text>
<text transform="translate(41.00,669.40) rotate(-90)" font-family="Liberation Sans" font-size="29.4" style="white-space:pre">[ t ]</text>
<polyline points="531.99,796.74 545.05,803.74 558.11,796.74" fill="none" stroke="#000" stroke-width="2.3" stroke-linejoin="miter" stroke-miterlimit="10"/>
<text transform="translate(552.60,786.91) rotate(-90)" font-family="Liberation Sans" font-size="30.6" style="white-space:pre">H</text>
<polyline points="531.99,755.57 545.05,749.26 558.11,755.57" fill="none" stroke="#000" stroke-width="2.3" stroke-linejoin="miter" stroke-miterlimit="10"/>
<text transform="translate(557.90,747.69) rotate(-90)" font-family="Liberation Sans" font-size="21.3" style="white-space:pre">opt.</text>
<text transform="translate(557.90,711.75) rotate(-90)" font-family="Liberation Sans" font-size="21.3" style="white-space:pre">{</text>
<text transform="translate(557.90,703.75) rotate(-90)" font-family="Liberation Sans" font-size="21.3" font-style="italic" style="white-space:pre">θ</text>
<text transform="translate(560.60,692.23) rotate(-90)" font-family="Liberation Sans" font-size="14.0" font-style="italic" style="white-space:pre">i</text>
<text transform="translate(557.90,688.25) rotate(-90)" font-family="Liberation Sans" font-size="21.3" style="white-space:pre">}</text>
<text transform="translate(553.10,663.28) rotate(-90)" font-family="Liberation Sans" font-size="30.6" style="white-space:pre">[ t ]</text>
</svg>
</body></html>
